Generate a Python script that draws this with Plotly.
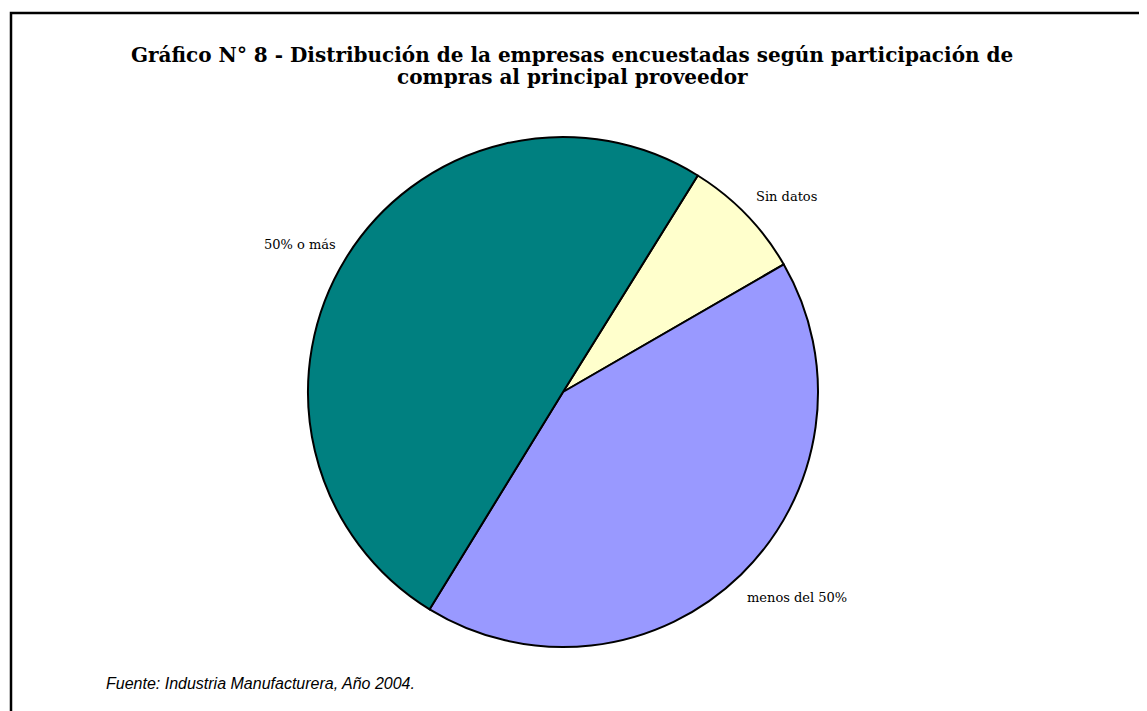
import plotly.graph_objects as go

# participación de compras al principal proveedor (% de empresas)
labels = ["Sin datos", "menos del 50%", "50% o más"]
values = [7.8, 42.1, 50.1]
colors = ["#FFFFCC", "#9999FF", "#008080"]

# the page body has an 8px margin, so work in page pixels and shift
OFF = 8
W, H = 1147 - OFF, 711 - OFF


def px(x):
    return (x - OFF) / W


def py(y):
    return 1 - (y - OFF) / H


fig = go.Figure()

fig.add_trace(
    go.Pie(
        labels=labels,
        values=values,
        sort=False,
        direction="clockwise",
        rotation=31.9,
        marker=dict(colors=colors, line=dict(color="black", width=2)),
        textinfo="none",
        hoverinfo="label+percent",
        showlegend=False,
        domain=dict(x=[px(308), px(818)], y=[py(647), py(137)]),
    )
)

serif = "DejaVu Serif"

# etiquetas de las porciones
label_pos = {
    "50% o más": (300, 244),
    "Sin datos": (787, 197),
    "menos del 50%": (797, 597),
}
for txt, (lx, ly) in label_pos.items():
    fig.add_annotation(
        x=px(lx), y=py(ly), xref="paper", yref="paper",
        text=txt, showarrow=False, xanchor="center", yanchor="middle",
        font=dict(family=serif, size=13, color="black"),
    )

# titulo (dos lineas)
title_lines = [
    ("Gráfico N° 8 - Distribución de la empresas encuestadas según participación de", 55),
    ("compras al principal proveedor", 77),
]
for txt, ty in title_lines:
    fig.add_annotation(
        x=px(572), y=py(ty), xref="paper", yref="paper",
        text="<b>" + txt + "</b>",
        showarrow=False, xanchor="center", yanchor="middle",
        font=dict(family=serif, size=20, color="black"),
    )

# fuente
fig.add_annotation(
    x=px(104), y=py(683), xref="paper", yref="paper",
    text="<i>Fuente: Industria Manufacturera, Año 2004.</i>",
    showarrow=False, xanchor="left", yanchor="middle",
    font=dict(family="Liberation Sans", size=16, color="black"),
)

# marco
fig.add_shape(
    type="rect", xref="paper", yref="paper",
    x0=px(11), x1=1.02, y0=-0.02, y1=py(13),
    line=dict(color="black", width=2.5), fillcolor="rgba(0,0,0,0)",
)

fig.update_layout(
    width=W, height=H,
    margin=dict(l=0, r=0, t=0, b=0),
    paper_bgcolor="white",
    plot_bgcolor="white",
)

fig.write_html("out.html")
